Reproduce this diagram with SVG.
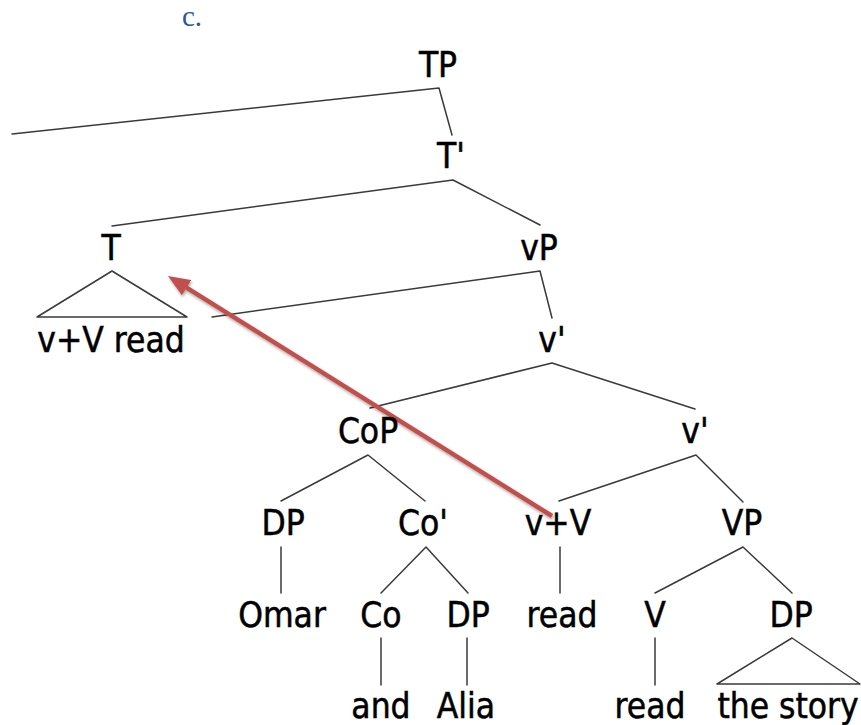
<svg xmlns="http://www.w3.org/2000/svg" width="861" height="725" viewBox="0 0 861 725">
<style>
  .lbl { font-family: "DejaVu Sans Condensed", "DejaVu Sans", sans-serif; font-stretch: condensed; font-size: 35px; fill: #000; stroke: #000; stroke-width: 0.5; text-anchor: middle; }
  .edge { stroke: #3a3a3a; stroke-width: 1.5; fill: none; stroke-linecap: round; stroke-linejoin: round; }
  .mv { stroke: #c0504d; stroke-width: 4.5; fill: none; }
  .cap { font-family: "Liberation Serif", serif; font-size: 29px; fill: #2f5597; }
</style>
<defs>
  <marker id="ah" markerUnits="userSpaceOnUse" viewBox="0 0 22 18" markerWidth="22" markerHeight="18" refX="11" refY="9" orient="auto">
    <path d="M0,0 L22,9 L0,18 z" fill="#c0504d"/>
  </marker>
  <filter id="sh" x="-10%" y="-10%" width="120%" height="120%">
    <feDropShadow dx="1" dy="2" stdDeviation="1.5" flood-color="#000" flood-opacity="0.35"/>
  </filter>
</defs>
<rect width="861" height="725" fill="#fff"/>
<text class="cap" x="182" y="26">c.</text>

<g id="connectors">
  <polyline class="edge" points="12,134 439,88 452,135"/>
  <polyline class="edge" points="112,226 453,180 540,225"/>
  <polygon class="edge" points="112,271 37,317 187,317"/>
  <polyline class="edge" points="212,317 540,271 552,318"/>
  <polyline class="edge" points="370,408 552,363 695,409"/>
  <polyline class="edge" points="281,501 368,455 425,501"/>
  <polyline class="edge" points="559,501 696,455 743,502"/>
  <line class="edge" x1="281" y1="547" x2="281" y2="593"/>
  <polyline class="edge" points="381,593 426,547 468,593"/>
  <line class="edge" x1="560" y1="547" x2="560" y2="593"/>
  <polyline class="edge" points="655,593 743,547 792,593"/>
  <line class="edge" x1="381" y1="638" x2="381" y2="685"/>
  <line class="edge" x1="467" y1="638" x2="467" y2="685"/>
  <line class="edge" x1="655" y1="638" x2="655" y2="685"/>
  <polygon class="edge" points="792,638 717,684 860,684"/>
  <line class="mv" x1="552" y1="516" x2="177.3" y2="281.8" marker-end="url(#ah)" filter="url(#sh)"/>
</g>

<g id="n-TP"><text class="lbl" x="438" y="77">TP</text></g>
<g id="n-Tbar"><text class="lbl" x="451" y="168">T'</text></g>
<g id="n-T"><text class="lbl" x="111" y="260">T</text></g>
<g id="n-vP"><text class="lbl" x="539" y="260">vP</text></g>
<g id="n-T-leaf"><text class="lbl" x="111" y="352">v+V read</text></g>
<g id="n-vbar1"><text class="lbl" x="552" y="352">v'</text></g>
<g id="n-CoP"><text class="lbl" x="368" y="443">CoP</text></g>
<g id="n-vbar2"><text class="lbl" x="695" y="443">v'</text></g>
<g id="n-DP1"><text class="lbl" x="283" y="535">DP</text></g>
<g id="n-Cobar"><text class="lbl" x="423" y="535">Co'</text></g>
<g id="n-vV"><text class="lbl" x="558" y="535">v+V</text></g>
<g id="n-VP"><text class="lbl" x="742" y="535">VP</text></g>
<g id="n-Omar"><text class="lbl" x="282" y="627">Omar</text></g>
<g id="n-Co"><text class="lbl" x="381" y="627">Co</text></g>
<g id="n-DP2"><text class="lbl" x="468" y="627">DP</text></g>
<g id="n-read1"><text class="lbl" x="562" y="627">read</text></g>
<g id="n-V"><text class="lbl" x="655" y="627">V</text></g>
<g id="n-DP3"><text class="lbl" x="791" y="627">DP</text></g>
<g id="n-and"><text class="lbl" x="381" y="718">and</text></g>
<g id="n-Alia"><text class="lbl" x="466" y="718">Alia</text></g>
<g id="n-read2"><text class="lbl" x="650" y="718">read</text></g>
<g id="n-story"><text class="lbl" x="788" y="718">the story</text></g>
</svg>
